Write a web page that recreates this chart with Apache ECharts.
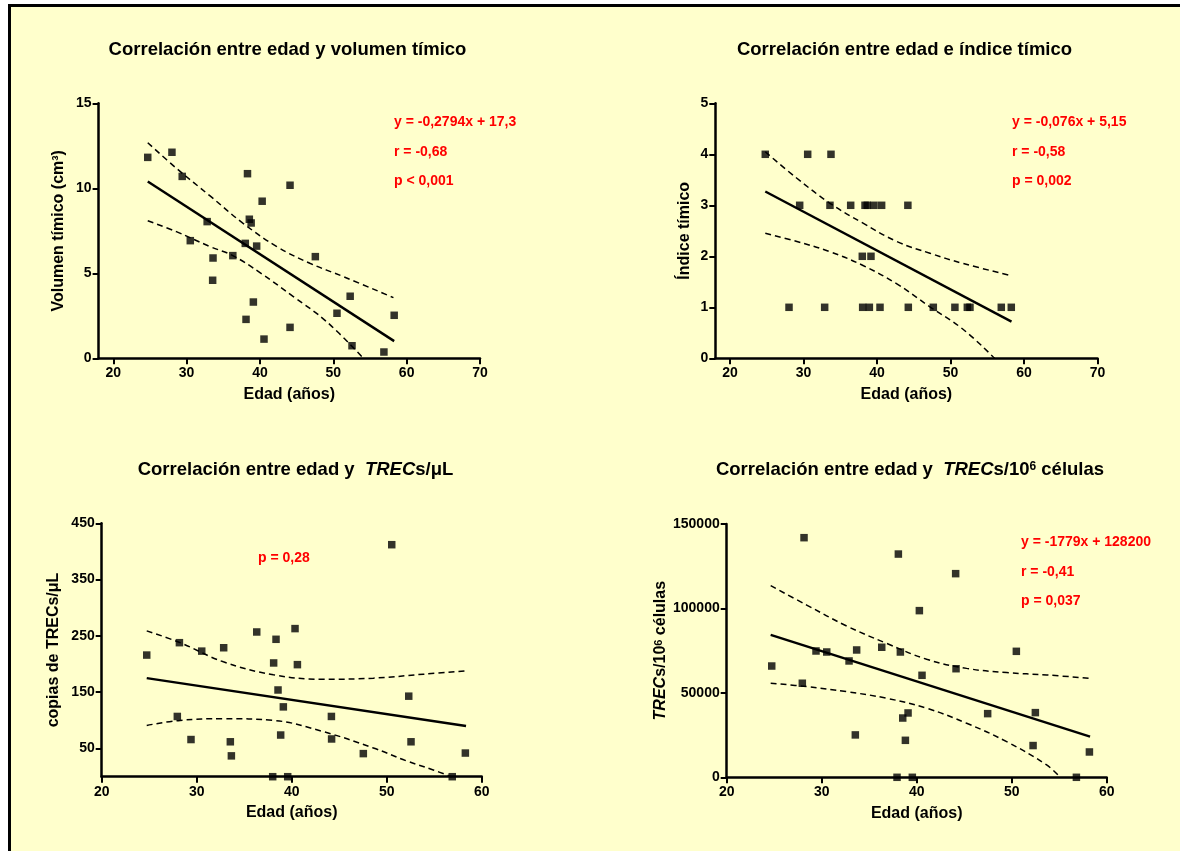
<!DOCTYPE html>
<html>
<head>
<meta charset="utf-8">
<script src="https://cdn.jsdelivr.net/npm/echarts@6/dist/echarts.min.js"></script>
<style>html,body{margin:0;padding:0;background:#fff;}#c{width:1180px;height:851px;}</style>
</head>
<body>
<div id="c"></div>
<script>
// ---------- Panel 1: volumen tímico ----------
const ages1 = [24.7, 28.0, 29.4, 32.8, 30.5, 33.6, 33.55, 36.3, 38.0, 38.3, 38.55, 38.8, 39.55, 40.3, 44.1, 38.1, 39.1, 40.55, 44.1, 47.55, 50.5, 52.3, 52.55, 56.9, 58.3];
const volumen = [11.82, 12.12, 10.7, 8.04, 6.92, 5.9, 4.59, 6.04, 6.76, 10.86, 8.18, 7.96, 6.6, 9.24, 10.18, 2.29, 3.31, 1.13, 1.82, 5.98, 2.65, 3.65, 0.74, 0.37, 2.53];
const fit1X = [24.7, 58.3], fit1Y = [10.4, 1.01];
const up1X = [24.7, 28.6, 33.2, 37.7, 42.3, 46.8, 51.4, 58.2], up1Y = [12.68, 11.18, 9.55, 7.94, 6.57, 5.59, 4.8, 3.57];
const lo1X = [24.7, 28.6, 33.2, 36.3, 40.0, 44.55, 49.1, 54.1], lo1Y = [8.09, 7.45, 6.57, 6.04, 5.04, 3.63, 2.15, 0.0];

// ---------- Panel 2: índice tímico ----------
const ages2 = [24.8, 30.57, 33.74, 29.48, 33.6, 36.42, 38.37, 38.68, 39.59, 40.63, 44.2, 38.0, 39.18, 28.03, 32.88, 38.05, 38.96, 40.41, 44.26, 47.66, 50.6, 52.29, 52.65, 56.91, 58.27];
const indice = [4, 4, 4, 3, 3, 3, 3, 3, 3, 3, 3, 2, 2, 1, 1, 1, 1, 1, 1, 1, 1, 1, 1, 1, 1];
const fit2X = [24.8, 58.3], fit2Y = [3.27, 0.72];
const up2X = [24.8, 29.1, 33.6, 38.1, 42.7, 47.2, 51.7, 58.3], up2Y = [4.05, 3.53, 3.04, 2.65, 2.29, 2.06, 1.86, 1.62];
const lo2X = [24.8, 29.1, 33.6, 38.1, 42.7, 47.2, 51.7, 56.0], lo2Y = [2.45, 2.29, 2.09, 1.82, 1.46, 1.01, 0.57, 0.0];

// ---------- Panel 3: TRECs/µL ----------
const ages3 = [24.74, 28.18, 27.96, 30.53, 29.4, 32.84, 33.54, 33.65, 36.32, 38.1, 38.35, 38.56, 38.84, 39.12, 38.0, 39.58, 40.35, 40.6, 44.18, 44.2, 47.54, 50.53, 52.32, 52.56, 56.9, 58.28];
const trecsUL = [216, 238, 107, 223, 66, 229, 62, 37, 257, 202, 244, 154, 74, 124, 0, 0, 263, 199, 107, 67, 41, 412, 143, 62, 0, 42];
const fit3X = [24.74, 58.35], fit3Y = [175, 90];
const up3X = [24.74, 28.25, 32.81, 38.07, 43.33, 48.6, 53.86, 58.35], up3Y = [259, 238, 204, 181, 173, 175, 182, 188];
const lo3X = [24.74, 28.25, 32.81, 38.07, 43.33, 48.6, 52.1, 54.9, 56.8], lo3Y = [91, 100, 103, 100, 80, 51, 28, 12, 0];

// ---------- Panel 4: TRECs/10^6 células ----------
const ages4 = [24.74, 28.14, 27.96, 29.4, 30.53, 32.88, 33.68, 33.54, 36.32, 38.07, 38.28, 38.53, 39.09, 38.81, 37.93, 39.54, 40.28, 40.56, 44.1, 44.14, 47.47, 50.49, 52.49, 52.25, 56.81, 58.18];
const trecsCel = [65900, 141900, 55700, 74800, 74200, 68900, 75400, 25100, 77000, 132200, 74200, 35100, 38100, 21900, 0, 0, 98700, 60400, 120600, 64300, 37700, 74600, 38300, 18800, 0, 15000];
const fit4X = [24.63, 58.25], fit4Y = [84300, 24100];
const up4X = [24.63, 28.42, 32.63, 36.84, 41.05, 45.26, 49.47, 53.68, 58.25], up4Y = [113500, 102000, 89600, 79300, 69900, 64500, 62000, 60600, 58600];
const lo4X = [24.63, 28.42, 32.63, 36.84, 41.05, 45.26, 49.47, 53.68, 55.1], lo4Y = [55700, 53700, 50700, 46800, 40900, 32000, 21100, 7300, 0];

// ---------- tick labels ----------
const xTicksTop = [20, 30, 40, 50, 60, 70];
const xTicksBottom = [20, 30, 40, 50, 60];
const yTicks3 = [50, 150, 250, 350, 450];

// ---------- texts ----------
const titles = [
  'Correlación entre edad y volumen tímico',
  'Correlación entre edad e índice tímico',
  'Correlación entre edad y  {i|TREC}s/μL',
  'Correlación entre edad y  {i|TREC}s/10{sup|6} células'
];
const stats1 = ['y = -0,2794x + 17,3', 'r = -0,68', 'p < 0,001'];
const stats2 = ['y = -0,076x + 5,15', 'r = -0,58', 'p = 0,002'];
const stats3 = ['p = 0,28'];
const stats4 = ['y = -1779x + 128200', 'r = -0,41', 'p = 0,037'];

const FONT = 'Arial, "Liberation Sans", Helvetica, sans-serif';
const zip = (a, b) => a.map((v, i) => [v, b[i]]);

const chart = echarts.init(document.getElementById('c'), null, {renderer: 'canvas'});

const grids = [
  {left: 98.6, top: 103.3, width: 381.4, height: 255},
  {left: 715.3, top: 103.3, width: 382.2, height: 255},
  {left: 101.7, top: 523.3, width: 380, height: 253.4},
  {left: 726.7, top: 524, width: 380, height: 253.3}
];

function baseAxis(extra) {
  return Object.assign({
    type: 'value',
    axisLine: {show: true, onZero: false, lineStyle: {color: '#000', width: 2.5}},
    axisTick: {show: true, length: 6, lineStyle: {color: '#000', width: 2}},
    axisLabel: {color: '#000', fontWeight: 'bold', fontSize: 14, fontFamily: FONT, margin: 8,
      formatter: v => String(v)},
    splitLine: {show: false},
    nameLocation: 'middle',
    nameTextStyle: {color: '#000', fontWeight: 'bold', fontSize: 16, fontFamily: FONT,
      rich: {i: {fontStyle: 'italic', fontWeight: 'bold', fontSize: 16, fontFamily: FONT, color: '#000'},
             sup: {fontWeight: 'bold', fontSize: 11, fontFamily: FONT, color: '#000', verticalAlign: 'top'}}}
  }, extra);
}
function withCustom(ax, vals) {
  ax.axisLabel = Object.assign({}, ax.axisLabel, {customValues: vals});
  ax.axisTick = Object.assign({}, ax.axisTick, {customValues: vals});
  return ax;
}

const xAxes = [
  withCustom(baseAxis({gridIndex: 0, min: 18, max: 70, name: 'Edad (años)', nameGap: 28}), xTicksTop),
  withCustom(baseAxis({gridIndex: 1, min: 18, max: 70, name: 'Edad (años)', nameGap: 28}), xTicksTop),
  withCustom(baseAxis({gridIndex: 2, min: 20, max: 60, name: 'Edad (años)', nameGap: 28}), xTicksBottom),
  withCustom(baseAxis({gridIndex: 3, min: 20, max: 60, name: 'Edad (años)', nameGap: 28}), xTicksBottom)
];
const yAxes = [
  baseAxis({gridIndex: 0, min: 0, max: 15, interval: 5, name: 'Volumen tímico (cm³)', nameGap: 32}),
  baseAxis({gridIndex: 1, min: 0, max: 5, interval: 1, name: 'Índice tímico', nameGap: 23}),
  withCustom(baseAxis({gridIndex: 2, min: 0, max: 450, name: 'copias de TRECs/μL', nameGap: 40}), yTicks3),
  baseAxis({gridIndex: 3, min: 0, max: 150000, interval: 50000, name: '{i|TREC}s/10{sup|6} células', nameGap: 36})
];
yAxes.forEach(a => { a.axisLabel = Object.assign({}, a.axisLabel, {margin: 7}); });

function panelSeries(idx, xs, ys, fx, fy, ux, uy, lx, ly) {
  return [
    {type: 'line', xAxisIndex: idx, yAxisIndex: idx, data: zip(ux, uy), smooth: 0.4, showSymbol: false, silent: true,
     lineStyle: {color: '#000', width: 1.5, type: [6, 4]}, z: 2},
    {type: 'line', xAxisIndex: idx, yAxisIndex: idx, data: zip(lx, ly), smooth: 0.4, showSymbol: false, silent: true,
     lineStyle: {color: '#000', width: 1.5, type: [6, 4]}, z: 2},
    {type: 'line', xAxisIndex: idx, yAxisIndex: idx, data: zip(fx, fy), showSymbol: false, silent: true,
     lineStyle: {color: '#000', width: 2.4}, z: 3},
    {type: 'scatter', xAxisIndex: idx, yAxisIndex: idx, data: zip(xs, ys), symbol: 'rect', symbolSize: 7.5, clip: false,
     itemStyle: {color: '#000'}, z: 4}
  ];
}

const series = [].concat(
  panelSeries(0, ages1, volumen, fit1X, fit1Y, up1X, up1Y, lo1X, lo1Y),
  panelSeries(1, ages2, indice, fit2X, fit2Y, up2X, up2Y, lo2X, lo2Y),
  panelSeries(2, ages3, trecsUL, fit3X, fit3Y, up3X, up3Y, lo3X, lo3Y),
  panelSeries(3, ages4, trecsCel, fit4X, fit4Y, up4X, up4Y, lo4X, lo4Y)
);

const titlePos = [[287.5, 50], [904.5, 50], [295.5, 470], [910, 470]];
const TS = 18.5;
const titleRich = {
  i: {fontStyle: 'italic', fontWeight: 'bold', fontSize: TS, fontFamily: FONT, fill: '#000'},
  sup: {fontWeight: 'bold', fontSize: 12, fontFamily: FONT, fill: '#000', verticalAlign: 'top'}
};
const graphics = [
  {type: 'rect', shape: {x: 0, y: 0, width: 1180, height: 4}, style: {fill: '#fff'}, silent: true},
  {type: 'rect', shape: {x: 0, y: 0, width: 8, height: 851}, style: {fill: '#fff'}, silent: true},
  {type: 'polyline', shape: {points: [[9.5, 851], [9.5, 5.5], [1180, 5.5]]}, style: {stroke: '#000', lineWidth: 3, fill: null}, silent: true}
];
titles.forEach((t, k) => {
  graphics.push({type: 'text', x: titlePos[k][0], y: titlePos[k][1], silent: true,
    style: {text: t, align: 'center', verticalAlign: 'middle', fontSize: TS, fontWeight: 'bold', fontFamily: FONT, fill: '#000', rich: titleRich}});
});
function statTexts(lines, x, y0, step) {
  lines.forEach((s, k) => {
    graphics.push({type: 'text', x: x, y: y0 + k * step, silent: true,
      style: {text: s, align: 'left', verticalAlign: 'middle', fontSize: 14, fontWeight: 'bold', fontFamily: FONT, fill: '#ff0000'}});
  });
}
statTexts(stats1, 394, 122.5, 29.5);
statTexts(stats2, 1012, 122.5, 29.5);
statTexts(stats3, 258, 558.5, 29.5);
statTexts(stats4, 1021, 542.5, 29.3);

chart.setOption({
  backgroundColor: '#FFFFCC',
  animation: false,
  grid: grids,
  xAxis: xAxes,
  yAxis: yAxes,
  series: series,
  graphic: graphics
});
</script>
</body>
</html>
